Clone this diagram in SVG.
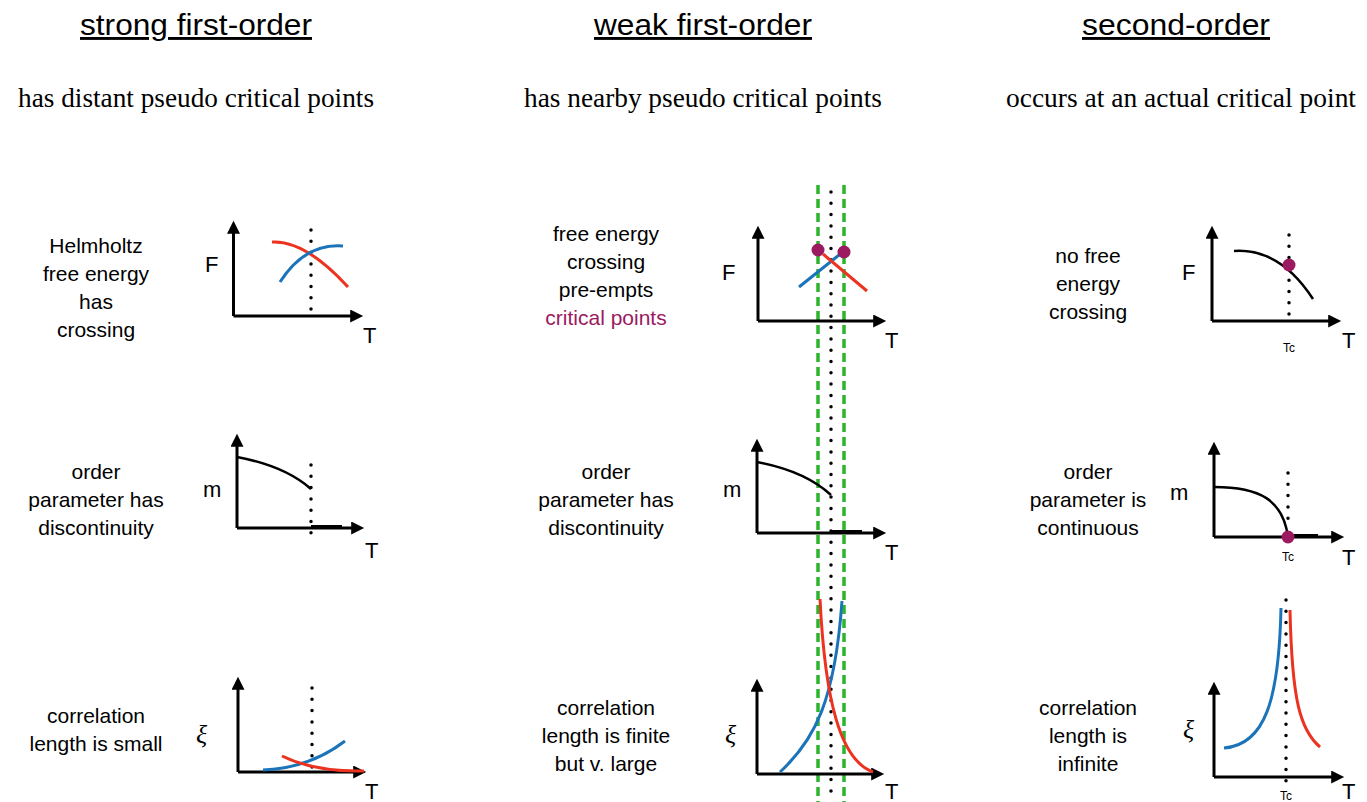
<svg xmlns="http://www.w3.org/2000/svg" width="1367" height="802" viewBox="0 0 1367 802">
<style>
.title{font-family:"Liberation Sans",Arial,sans-serif;font-size:29px;fill:#000;text-anchor:middle;text-decoration:underline}
.sub{font-family:"Liberation Serif","Times New Roman",serif;font-size:27px;fill:#000;text-anchor:middle}
.lbl{font-family:"Liberation Sans",Arial,sans-serif;font-size:21px;fill:#000;text-anchor:middle}
.ax{font-family:"Liberation Sans",Arial,sans-serif;font-size:22px;fill:#000}
.xi{font-family:"Liberation Serif","Times New Roman",serif;font-size:26px;font-style:italic;fill:#000}
.tc{font-family:"Liberation Sans",Arial,sans-serif;font-size:12px;fill:#000;text-anchor:middle}
.axis{stroke:#000;stroke-width:3;fill:none;marker-end:url(#ah)}
.dot{stroke:#000;stroke-width:3.5;stroke-linecap:round;stroke-dasharray:0 11.3;fill:none}
.green{stroke:#2cb52c;stroke-width:3.5;stroke-dasharray:9 5;fill:none}
.blue{stroke:#1b74b9;stroke-width:3;fill:none}
.red{stroke:#ec3320;stroke-width:3;fill:none}
.blk{stroke:#000;stroke-width:2.5;fill:none}
.thick{stroke:#000;stroke-width:4;fill:none}
.pdot{fill:#9b1a60}
</style>
<defs>
<marker id="ah" viewBox="0 0 10 10" refX="6" refY="5" markerWidth="15" markerHeight="13" markerUnits="userSpaceOnUse" orient="auto">
<path d="M0,0 L10,5 L0,10 z" fill="#000"/>
</marker>
</defs>

<g id="headers">
<text class="title" x="196" y="35" textLength="232" lengthAdjust="spacingAndGlyphs">strong first-order</text>
<text class="title" x="703" y="35" textLength="218" lengthAdjust="spacingAndGlyphs">weak first-order</text>
<text class="title" x="1176" y="35" textLength="188" lengthAdjust="spacingAndGlyphs">second-order</text>
<text class="sub" x="196" y="107" textLength="356" lengthAdjust="spacingAndGlyphs">has distant pseudo critical points</text>
<text class="sub" x="703" y="107" textLength="358" lengthAdjust="spacingAndGlyphs">has nearby pseudo critical points</text>
<text class="sub" x="1181" y="107" textLength="350" lengthAdjust="spacingAndGlyphs">occurs at an actual critical point</text>
</g>

<g id="guides">
<line class="green" x1="818" y1="185" x2="818" y2="802"/>
<line class="green" x1="844" y1="185" x2="844" y2="802"/>
<line class="dot" x1="831" y1="192" x2="831" y2="802"/>
</g>

<g id="col1-F">
<text class="lbl" x="96" y="253">Helmholtz</text>
<text class="lbl" x="96" y="281">free energy</text>
<text class="lbl" x="96" y="309">has</text>
<text class="lbl" x="96" y="337">crossing</text>
<line class="dot" x1="311" y1="230" x2="311" y2="320"/>
<path class="axis" d="M233.5,316 V226"/>
<path class="axis" d="M233.5,316 H358"/>
<path class="red" d="M272,242 Q305,240 348,287"/>
<path class="blue" d="M280,282 Q305,243 343,246"/>
<text class="ax" x="205" y="272">F</text>
<text class="ax" x="363" y="343">T</text>
</g>

<g id="col1-m">
<text class="lbl" x="96" y="479">order</text>
<text class="lbl" x="96" y="507">parameter has</text>
<text class="lbl" x="96" y="535">discontinuity</text>
<line class="dot" x1="311" y1="465" x2="311" y2="533"/>
<path class="axis" d="M237,528 V439"/>
<path class="axis" d="M237,528 H359"/>
<path class="blk" d="M237,457 Q285,466 311,489"/>
<path class="thick" d="M311,527 H342"/>
<text class="ax" x="203" y="497">m</text>
<text class="ax" x="365" y="558">T</text>
</g>

<g id="col1-xi">
<text class="lbl" x="96" y="723">correlation</text>
<text class="lbl" x="96" y="751">length is small</text>
<line class="dot" x1="312" y1="688" x2="312" y2="778"/>
<path class="axis" d="M238,772 V682"/>
<path class="axis" d="M238,772 H361"/>
<path class="blue" d="M263,770 Q310,768 345,741"/>
<path class="red" d="M282,756 Q315,772 364,771"/>
<text class="xi" x="196" y="743">ξ</text>
<text class="ax" x="365" y="799">T</text>
</g>

<g id="col2-F">
<text class="lbl" x="606" y="241">free energy</text>
<text class="lbl" x="606" y="269">crossing</text>
<text class="lbl" x="606" y="297">pre-empts</text>
<text class="lbl" x="606" y="325" style="fill:#9b1a60">critical points</text>
<path class="axis" d="M758,321 V231"/>
<path class="axis" d="M758,321 H881"/>
<path class="blue" d="M799,287 L839,255"/>
<path class="red" d="M823,254 L867,291"/>
<circle class="pdot" cx="818" cy="250" r="6.5"/>
<circle class="pdot" cx="844" cy="252" r="6.5"/>
<text class="ax" x="722" y="280">F</text>
<text class="ax" x="885" y="348">T</text>
</g>

<g id="col2-m">
<text class="lbl" x="606" y="479">order</text>
<text class="lbl" x="606" y="507">parameter has</text>
<text class="lbl" x="606" y="535">discontinuity</text>
<path class="axis" d="M757,533 V444"/>
<path class="axis" d="M757,533 H881"/>
<path class="blk" d="M757,462 Q805,471 831,495"/>
<path class="thick" d="M831,532 H862"/>
<text class="ax" x="723" y="497">m</text>
<text class="ax" x="885" y="560">T</text>
</g>

<g id="col2-xi">
<text class="lbl" x="606" y="715">correlation</text>
<text class="lbl" x="606" y="743">length is finite</text>
<text class="lbl" x="606" y="771">but v. large</text>
<path class="axis" d="M757,774 V684"/>
<path class="axis" d="M757,774 H879"/>
<path class="blue" d="M780,772 C815,740 835,700 842,601"/>
<path class="red" d="M820,599 C825,700 840,760 873,772"/>
<text class="xi" x="725" y="743">ξ</text>
<text class="ax" x="885" y="799">T</text>
</g>

<g id="col3-F">
<text class="lbl" x="1088" y="263">no free</text>
<text class="lbl" x="1088" y="291">energy</text>
<text class="lbl" x="1088" y="319">crossing</text>
<line class="dot" x1="1289" y1="235" x2="1289" y2="325"/>
<path class="axis" d="M1212,321 V231"/>
<path class="axis" d="M1212,321 H1336"/>
<path class="blk" d="M1234,251 Q1280,248 1313,299"/>
<circle class="pdot" cx="1289" cy="265" r="6.5"/>
<text class="ax" x="1182" y="280">F</text>
<text class="tc" x="1289" y="352">Tc</text>
<text class="ax" x="1342" y="348">T</text>
</g>

<g id="col3-m">
<text class="lbl" x="1088" y="479">order</text>
<text class="lbl" x="1088" y="507">parameter is</text>
<text class="lbl" x="1088" y="535">continuous</text>
<line class="dot" x1="1288" y1="473" x2="1288" y2="520"/>
<path class="axis" d="M1214,537 V447"/>
<path class="axis" d="M1214,537 H1339"/>
<path class="blk" d="M1214,487 C1260,487 1283,500 1288,537"/>
<path class="thick" d="M1288,536 H1318"/>
<circle class="pdot" cx="1288" cy="537" r="6.5"/>
<text class="ax" x="1170" y="500">m</text>
<text class="tc" x="1288" y="561">Tc</text>
<text class="ax" x="1342" y="565">T</text>
</g>

<g id="col3-xi">
<text class="lbl" x="1088" y="715">correlation</text>
<text class="lbl" x="1088" y="743">length is</text>
<text class="lbl" x="1088" y="771">infinite</text>
<line class="dot" x1="1286" y1="600" x2="1286" y2="782"/>
<path class="axis" d="M1214,777 V687"/>
<path class="axis" d="M1214,777 H1339"/>
<path class="blue" d="M1224,748 C1265,745 1279,700 1281,608"/>
<path class="red" d="M1290,610 C1292,700 1300,730 1320,747"/>
<text class="xi" x="1183" y="738">ξ</text>
<text class="tc" x="1286" y="800">Tc</text>
<text class="ax" x="1342" y="799">T</text>
</g>
</svg>
